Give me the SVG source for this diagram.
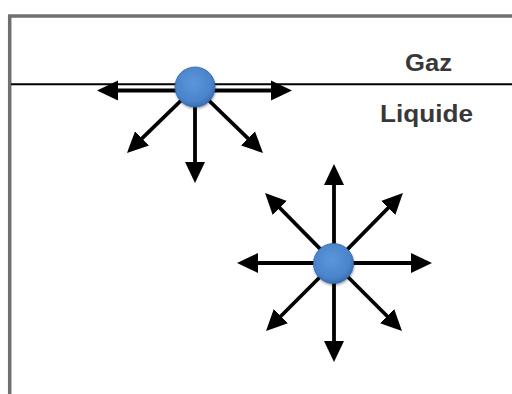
<svg xmlns="http://www.w3.org/2000/svg" width="512" height="394" viewBox="0 0 512 394">
  <style>
    .arrow { stroke: #000; stroke-width: 3.8; fill: none; marker-end: url(#head); }
    .label { font-family: "Liberation Sans", Arial, sans-serif; font-weight: bold; font-size: 23.5px; fill: #383838; text-anchor: middle; }
    .mol { fill: url(#sphere); stroke: #3466a6; stroke-width: 0.8; filter: url(#shadow); }
  </style>
  <defs>
    <marker id="head" markerUnits="userSpaceOnUse" viewBox="0 0 21 21" markerWidth="21" markerHeight="21" refX="9" refY="10.5" orient="auto">
      <path d="M0,0.5 L21,10.5 L0,20.5 Z" fill="#000"/>
    </marker>
    <radialGradient id="sphere" cx="0.45" cy="0.4" r="0.65">
      <stop offset="0" stop-color="#5b96da"/>
      <stop offset="0.7" stop-color="#4a84cc"/>
      <stop offset="1" stop-color="#3566a8"/>
    </radialGradient>
    <filter id="shadow" x="-30%" y="-30%" width="160%" height="160%">
      <feDropShadow dx="0.5" dy="1.5" stdDeviation="1.2" flood-color="#000" flood-opacity="0.35"/>
    </filter>
  </defs>

  <g id="container">
    <path d="M9.7,394 V16 H512" fill="none" stroke="#707070" stroke-width="3.5"/>
  </g>

  <g id="interface">
    <line x1="11" y1="84.3" x2="512" y2="84.3" stroke="#000" stroke-width="2"/>
  </g>

  <g id="label-gaz">
    <text class="label" x="428.5" y="71" textLength="47" lengthAdjust="spacingAndGlyphs">Gaz</text>
  </g>
  <g id="label-liquide">
    <text class="label" x="426.5" y="121.5" textLength="93" lengthAdjust="spacingAndGlyphs">Liquide</text>
  </g>

  <g id="connectors">
    <!-- surface molecule forces -->
    <line class="arrow" x1="195" y1="90.5" x2="109" y2="90.5"/>
    <line class="arrow" x1="195" y1="90.5" x2="280" y2="90.5"/>
    <line class="arrow" x1="195" y1="87" x2="195" y2="171"/>
    <line class="arrow" x1="195" y1="87" x2="135.6" y2="144.6"/>
    <line class="arrow" x1="195" y1="87" x2="254.4" y2="144.6"/>
    <!-- bulk molecule forces -->
    <line class="arrow" x1="334" y1="263" x2="334" y2="176"/>
    <line class="arrow" x1="334" y1="263" x2="334" y2="350"/>
    <line class="arrow" x1="334" y1="263" x2="249" y2="263"/>
    <line class="arrow" x1="334" y1="263" x2="420" y2="263"/>
    <line class="arrow" x1="334" y1="263" x2="273.5" y2="201.5"/>
    <line class="arrow" x1="334" y1="263" x2="394.5" y2="201.5"/>
    <line class="arrow" x1="334" y1="263" x2="274.5" y2="322.5"/>
    <line class="arrow" x1="334" y1="263" x2="393.5" y2="322.5"/>
  </g>

  <g id="molecule-surface">
    <circle class="mol" cx="195" cy="87" r="20"/>
  </g>
  <g id="molecule-bulk">
    <circle class="mol" cx="333.5" cy="263.5" r="20"/>
  </g>
</svg>
